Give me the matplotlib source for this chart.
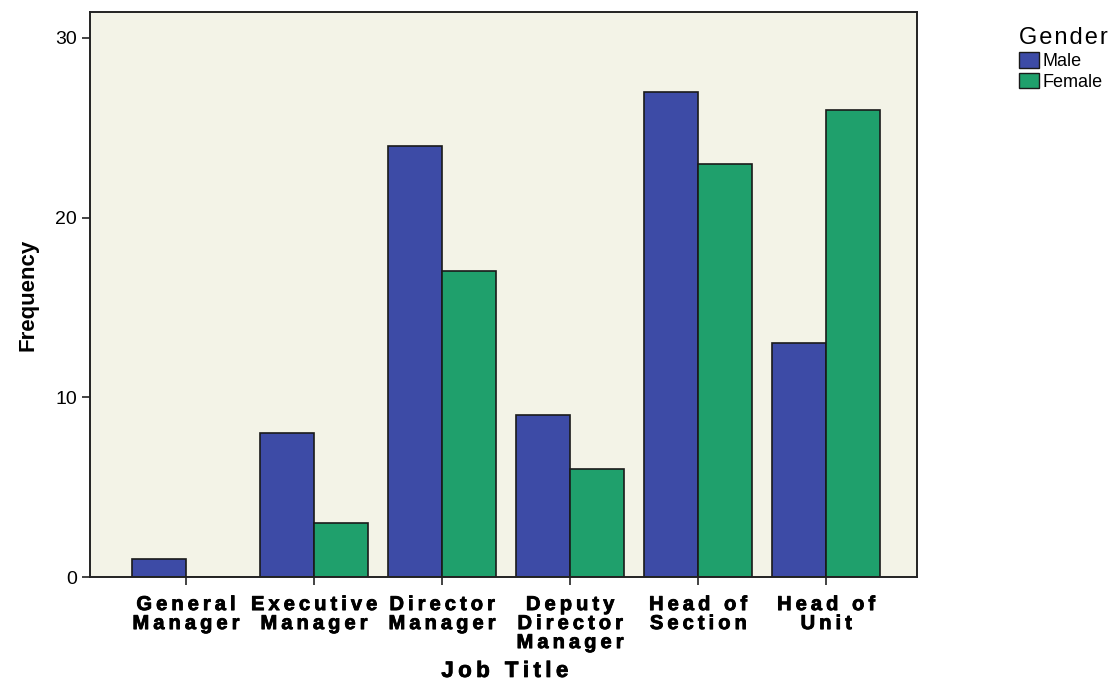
import numpy as np
import matplotlib.pyplot as plt
import matplotlib.patheffects as pe
from matplotlib.patches import Patch

# ─── DATA ────────────────────────────────────────────────────────────────────

job_titles = ["General\nManager", "Executive\nManager", "Director\nManager",
              "Deputy\nDirector\nManager", "Head of\nSection", "Head of\nUnit"]
male   = [1, 8, 24, 9, 27, 13]
female = [0, 3, 17, 6, 23, 26]
y_ticks = [0, 10, 20, 30]

MALE_C   = "#3d4ba6"
FEMALE_C = "#1fa06c"
PANEL_BG = "#f3f3e7"


def spaced(s, gap="\u2009"):
    """Widen tracking by putting a thin space between letters."""
    return "\n".join(gap.join(line) for line in s.split("\n"))


heavy = [pe.withStroke(linewidth=0.6, foreground="black")]

# ─── PLOT ────────────────────────────────────────────────────────────────────

plt.rcParams["font.family"] = ["Liberation Sans", "DejaVu Sans"]

fig = plt.figure(figsize=(11.16, 6.84), dpi=100)
ax = fig.add_axes([0.0806, 0.1564, 0.7411, 0.8261])
ax.set_facecolor(PANEL_BG)

x = np.arange(len(job_titles))
w = 0.42
ax.bar(x - w / 2, male, w, color=MALE_C, edgecolor="#1a1a1a", linewidth=1.2)
ax.bar(x + w / 2, female, w, color=FEMALE_C, edgecolor="#1a1a1a", linewidth=1.2)

ax.set_xlim(-0.75, 5.71)
ax.set_ylim(0, 31.44)
ax.set_yticks(y_ticks)
ax.set_yticklabels([str(t) for t in y_ticks], fontsize=14)
ax.set_xticks(x)
ax.set_xticklabels([spaced(t) for t in job_titles], fontsize=14.5,
                   fontweight="bold", linespacing=1.0)
for lbl in ax.get_xticklabels():
    lbl.set_path_effects(heavy)

for s in ax.spines.values():
    s.set_linewidth(1.4)
    s.set_color("#222222")
ax.tick_params(axis="both", length=6, width=1.2, color="#222222")
ax.tick_params(axis="x", pad=7)

ax.set_ylabel("Frequency", fontsize=16, fontweight="bold", labelpad=12)
fig.text(0.4525, 0.003, spaced("Job Title"), fontsize=16, fontweight="bold",
         ha="center", va="bottom", path_effects=heavy)

handles = [Patch(facecolor=MALE_C, edgecolor="#1a1a1a", label="Male"),
           Patch(facecolor=FEMALE_C, edgecolor="#1a1a1a", label="Female")]
leg = fig.legend(handles=handles, title=spaced("Gender", "\u200a"),
                 loc="upper left", bbox_to_anchor=(0.913, 0.96), frameon=False,
                 fontsize=13, title_fontsize=17, handlelength=1.1,
                 handleheight=0.95, handletextpad=0.2, labelspacing=0.15,
                 borderaxespad=0, borderpad=0)
leg._legend_box.align = "left"

fig.savefig("out.png", dpi=100, facecolor="white")
